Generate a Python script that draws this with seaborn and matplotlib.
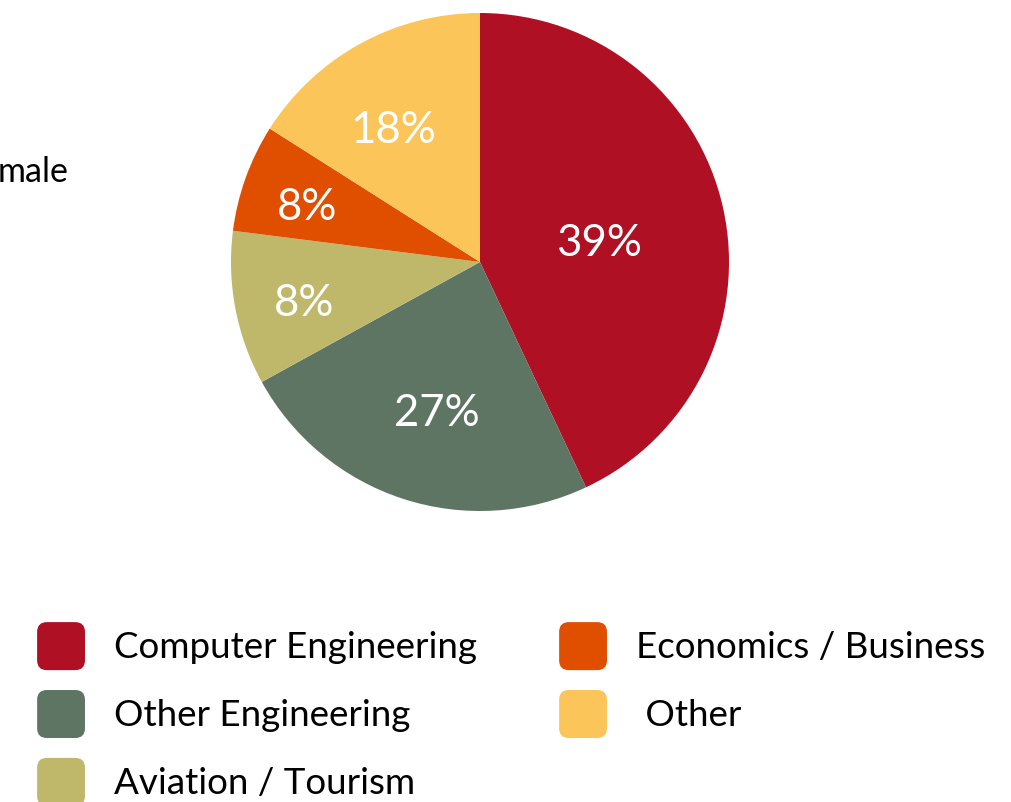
import numpy as np
import matplotlib
matplotlib.use("Agg")
import matplotlib.pyplot as plt
import seaborn as sns
from matplotlib.patches import FancyBboxPatch, Patch
from matplotlib.legend_handler import HandlerPatch

# ---- data ----
categories = ["Computer Engineering", "Other Engineering", "Aviation / Tourism",
              "Economics / Business", "Other"]
slice_sizes = [43, 24, 10, 7, 16]          # angular share as drawn
slice_labels = ["39%", "27%", "8%", "8%", "18%"]  # printed labels
legend_labels = ["Computer Engineering", "Other Engineering", "Aviation / Tourism",
                 "Economics / Business", " Other"]
side_text = "male"

colors = ["#AF1023", "#5E7563", "#BFB86B", "#E04F00", "#FCC55A"]
label_radii = [0.49, 0.60, 0.72, 0.74, 0.66]
label_shift = [0, 1, 0, 0, 3]   # degrees

sns.set_theme(style="white")
plt.rcParams['font.family'] = ['Lato', 'DejaVu Sans']
palette = sns.color_palette(colors)

fig = plt.figure(figsize=(10.11, 8.02), dpi=100)
W, H = 1011, 802
cx, cy, r = 480, 262, 249
ax = fig.add_axes([(cx - r) / W, (H - cy - r) / H, 2 * r / W, 2 * r / H])

wedges, _ = ax.pie(slice_sizes, colors=palette, startangle=90, counterclock=False,
                   radius=1.0, wedgeprops=dict(linewidth=0))
ax.set_xlim(-1, 1)
ax.set_ylim(-1, 1)
ax.set_aspect("auto")
ax.axis("off")

for w, lab, rr, sh in zip(wedges, slice_labels, label_radii, label_shift):
    ang = np.deg2rad((w.theta1 + w.theta2) / 2 + sh)
    ax.annotate(lab, (rr * np.cos(ang), rr * np.sin(ang)), xytext=(0, -6),
                textcoords="offset points", ha="center", va="center",
                color="white", fontsize=31.5)

fig.text(69 / W, 1 - 172 / H, side_text, ha="right", va="center", fontsize=24.5,
         color="black")


class RoundHandler(HandlerPatch):
    def create_artists(self, legend, orig_handle, xdescent, ydescent, width, height,
                       fontsize, trans):
        p = FancyBboxPatch((-xdescent + 3, -ydescent + 3), width - 6, height - 6,
                           boxstyle="round,pad=3,rounding_size=7",
                           facecolor=orig_handle.get_facecolor(), edgecolor="none",
                           transform=trans)
        return [p]


FS = 26.5
handles = [Patch(facecolor=c) for c in palette]
leg = fig.legend(handles, legend_labels, ncol=2, frameon=False,
                 loc="upper left", bbox_to_anchor=(4 / W, 1 - 589 / H),
                 fontsize=FS, handlelength=1.30, handleheight=1.63,
                 handletextpad=0.79, labelspacing=0.54, columnspacing=2.23,
                 handler_map={Patch: RoundHandler()})
for t in leg.get_texts():
    t.set_color("black")

fig.savefig("out.png", dpi=100)
